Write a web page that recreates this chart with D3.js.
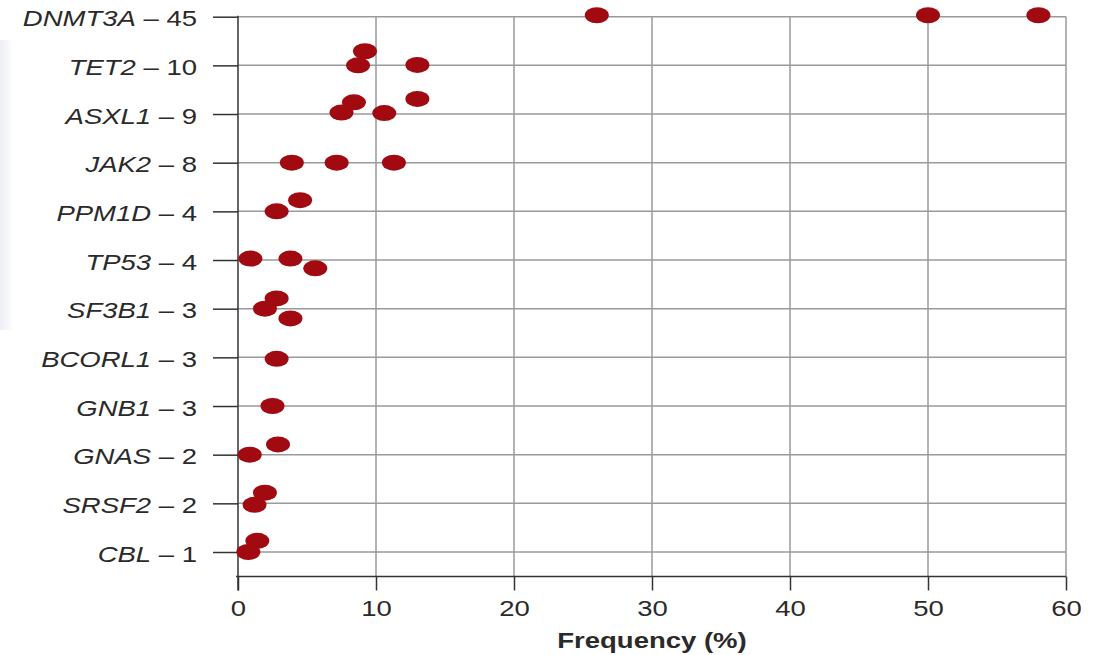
<!DOCTYPE html>
<html>
<head>
<meta charset="utf-8">
<script src="https://cdn.jsdelivr.net/npm/d3@7/dist/d3.min.js"></script>
<style>
  html, body { margin: 0; padding: 0; background: #ffffff; }
  svg { display: block; }
</style>
</head>
<body>
<script>
// ---- data ----
const genes  = ["DNMT3A", "TET2", "ASXL1", "JAK2", "PPM1D", "TP53", "SF3B1", "BCORL1", "GNB1", "GNAS", "SRSF2", "CBL"];
const counts = [45, 10, 9, 8, 4, 4, 3, 3, 3, 2, 2, 1];
// frequency (%) of each reported study, per gene
const frequencies = [
  [26.0, 50.0, 58.0],
  [9.2, 8.7, 13.0],
  [8.4, 7.5, 10.6, 13.0],
  [3.9, 7.15, 11.3],
  [4.5, 2.8],
  [0.9, 3.8, 5.6],
  [2.8, 1.95, 3.8],
  [2.8],
  [2.5],
  [2.9, 0.85],
  [1.95, 1.2],
  [1.4, 0.75]
];
// vertical jitter of each point, in fractions of a row (negative = up)
const jitter = [
  [-0.03, -0.03, -0.03],
  [-0.29, 0, -0.01],
  [-0.24, -0.03, -0.02, -0.31],
  [0, 0, 0],
  [-0.23, 0],
  [-0.03, -0.03, 0.17],
  [-0.21, 0, 0.2],
  [0.03],
  [0],
  [-0.21, 0],
  [-0.22, 0.03],
  [-0.23, 0]
];
const xTicks = [0, 10, 20, 30, 40, 50, 60];
const xTitle = "Frequency (%)";

// ---- layout ----
const W = 1098, H = 655;
const x0 = 238, x1 = 1066;
const yTop = 16.7, yBottom = 552, axisY = 576.5;
const stretch = 1.25;
const font = "'Liberation Sans', Arial, Helvetica, sans-serif";

const svg = d3.select("body").append("svg").attr("width", W).attr("height", H);

// faint watermark strip on the left edge
const grad = svg.append("defs").append("linearGradient").attr("id", "wm")
  .attr("x1", 0).attr("x2", 1).attr("y1", 0).attr("y2", 0);
grad.append("stop").attr("offset", "0%").attr("stop-color", "#eceef3");
grad.append("stop").attr("offset", "100%").attr("stop-color", "#ffffff");
svg.append("rect").attr("x", 0).attr("y", 40).attr("width", 14).attr("height", 290)
  .attr("fill", "url(#wm)");

const x = d3.scaleLinear().domain([0, 60]).range([x0, x1]);
const y = d3.scalePoint().domain(genes).range([yTop, yBottom]);
const rowStep = y.step();

// grid
const grid = svg.append("g");
grid.selectAll("line.h").data(genes).join("line")
  .attr("x1", x0).attr("x2", x1)
  .attr("y1", d => y(d)).attr("y2", d => y(d))
  .attr("stroke", "#9a9a9a").attr("stroke-width", 1.5);
grid.selectAll("line.v").data(xTicks.slice(1)).join("line")
  .attr("x1", d => x(d)).attr("x2", d => x(d))
  .attr("y1", yTop).attr("y2", axisY)
  .attr("stroke", "#9a9a9a").attr("stroke-width", 1.5);

// x axis
const xAxis = svg.append("g").attr("transform", `translate(0,${axisY})`)
  .call(d3.axisBottom(x).tickValues(xTicks).tickSize(14).tickPadding(14).tickSizeOuter(0));
xAxis.select(".domain").attr("stroke", "#333").attr("stroke-width", 1.5)
  .attr("d", `M${x0 - 2},0H${x1}`);
xAxis.selectAll(".tick line").attr("stroke", "#333").attr("stroke-width", 1.5);
xAxis.selectAll(".tick text")
  .attr("font-family", font).attr("font-size", 22).attr("fill", "#2a2a2a")
  .attr("dy", null).attr("y", 40)
  .attr("transform", `scale(${stretch},1)`);

// y axis
const yAxis = svg.append("g").attr("transform", `translate(${x0},0)`)
  .call(d3.axisLeft(y).tickSize(25).tickSizeOuter(0).tickFormat(""));
yAxis.select(".domain").attr("stroke", "#333").attr("stroke-width", 1.5)
  .attr("d", `M0,${yTop - 1}V${axisY + 14}`);
yAxis.selectAll(".tick line").attr("stroke", "#333").attr("stroke-width", 1.5);
yAxis.selectAll(".tick text").remove();
yAxis.selectAll(".tick").each(function(d, i) {
  const t = d3.select(this).append("text")
    .attr("transform", `translate(-41,9) scale(${stretch},1)`)
    .attr("text-anchor", "end")
    .attr("font-family", font).attr("font-size", 22).attr("fill", "#2a2a2a");
  t.append("tspan").attr("font-style", "italic").text(d);
  t.append("tspan").text(" \u2013 " + counts[genes.indexOf(d)]);
});

// x title
svg.append("text")
  .attr("transform", `translate(${x(30)},648) scale(${stretch},1)`)
  .attr("text-anchor", "middle")
  .attr("font-family", font).attr("font-size", 22).attr("font-weight", "bold")
  .attr("fill", "#2a2a2a").text(xTitle);

// points
const pts = [];
genes.forEach((g, gi) => {
  frequencies[gi].forEach((v, k) => pts.push({ gene: g, value: v, off: jitter[gi][k] }));
});
svg.append("g").selectAll("ellipse").data(pts).join("ellipse")
  .attr("cx", d => x(d.value))
  .attr("cy", d => y(d.gene) + d.off * rowStep)
  .attr("rx", 12).attr("ry", 8)
  .attr("fill", "#a00a10");
</script>
</body>
</html>
